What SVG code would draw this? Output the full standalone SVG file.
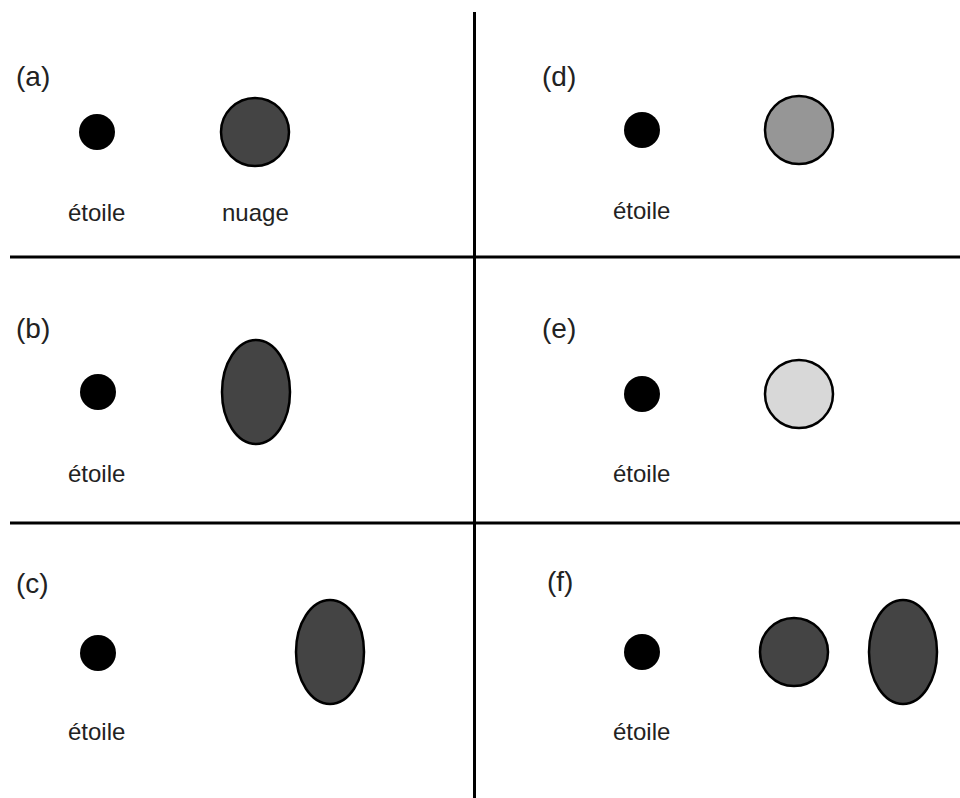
<svg xmlns="http://www.w3.org/2000/svg" width="960" height="798" viewBox="0 0 960 798">
<style>
text{font-family:"Liberation Sans",Arial,sans-serif;fill:#222}
.lbl{font-size:28px}
.nm{font-size:24px}
.star{fill:#000}
.cloud{fill:#444;stroke:#000;stroke-width:2.5}
.div{stroke:#000;stroke-width:3}
</style>
<rect width="960" height="798" fill="#fff"/>
<g id="dividers">
<line class="div" x1="10" y1="257" x2="960" y2="257"/>
<line class="div" x1="10" y1="523" x2="960" y2="523"/>
<line class="div" x1="474.5" y1="12" x2="474.5" y2="798"/>
</g>
<g id="panel-a">
<text class="lbl" x="16" y="86">(a)</text>
<circle class="star" cx="97" cy="132" r="18"/>
<circle class="cloud" cx="255" cy="132" r="34"/>
<text class="nm" x="68" y="221">étoile</text>
<text class="nm" x="222" y="221">nuage</text>
</g>
<g id="panel-b">
<text class="lbl" x="16" y="338">(b)</text>
<circle class="star" cx="98" cy="392" r="18"/>
<ellipse class="cloud" cx="256" cy="392" rx="34" ry="52"/>
<text class="nm" x="68" y="482">étoile</text>
</g>
<g id="panel-c">
<text class="lbl" x="16" y="593">(c)</text>
<circle class="star" cx="98" cy="653" r="18"/>
<ellipse class="cloud" cx="330" cy="652" rx="34" ry="52"/>
<text class="nm" x="68" y="740">étoile</text>
</g>
<g id="panel-d">
<text class="lbl" x="542" y="86">(d)</text>
<circle class="star" cx="642" cy="130" r="18"/>
<circle class="cloud" cx="799" cy="130" r="34" style="fill:#969696"/>
<text class="nm" x="613" y="219">étoile</text>
</g>
<g id="panel-e">
<text class="lbl" x="542" y="338">(e)</text>
<circle class="star" cx="642" cy="394" r="18"/>
<circle class="cloud" cx="799" cy="394" r="34" style="fill:#d8d8d8"/>
<text class="nm" x="613" y="482">étoile</text>
</g>
<g id="panel-f">
<text class="lbl" x="547" y="591">(f)</text>
<circle class="star" cx="642" cy="652" r="18"/>
<circle class="cloud" cx="794" cy="652" r="34"/>
<ellipse class="cloud" cx="903" cy="652" rx="34" ry="52"/>
<text class="nm" x="613" y="740">étoile</text>
</g>
</svg>
